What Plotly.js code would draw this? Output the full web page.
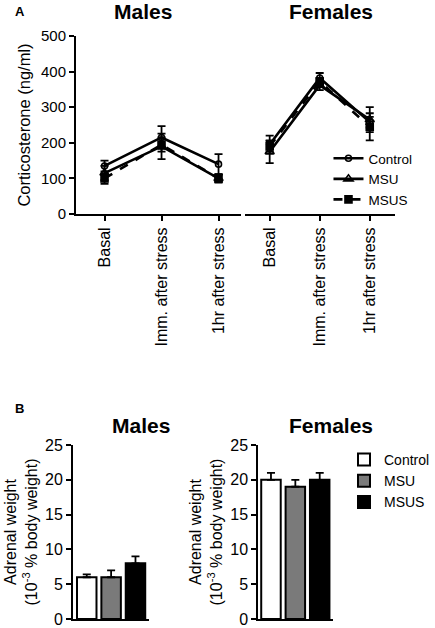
<!DOCTYPE html>
<html>
<head>
<meta charset="utf-8">
<script src="https://cdn.plot.ly/plotly-3.0.1.min.js"></script>
<style>html,body{margin:0;padding:0;background:#fff;}#chart{width:435px;height:628px;}</style>
</head>
<body>
<div id="chart"></div>
<script>
// ---- Data ----
const timepoints = ["Basal", "Imm. after stress", "1hr after stress"];
const groups = ["Control", "MSU", "MSUS"];

// Panel A: corticosterone (ng/ml)
const maleControl = [135, 215, 140];
const maleControlErr = [15, 32, 28];
const maleMSU = [115, 190, 100];
const maleMSUErr = [20, 36, 12];
const maleMSUS = [100, 195, 100];
const maleMSUSErr = [15, 20, 10];

const femaleControl = [195, 382, 258];
const femaleControlErr = [25, 14, 15];
const femaleMSU = [175, 362, 265];
const femaleMSUErr = [32, 14, 35];
const femaleMSUS = [190, 372, 245];
const femaleMSUSErr = [15, 10, 38];

// Panel B: adrenal weight (10^-3 % body weight)
const maleAdrenal = [6, 6, 8];
const maleAdrenalErr = [0.4, 1, 1];
const femaleAdrenal = [20, 19, 20];
const femaleAdrenalErr = [1, 1, 1];

const barColors = ["#ffffff", "#7a7a7a", "#000000"];

// ---- Figure ----
const W = 435, H = 628;
const px = v => v / W;
const py = v => 1 - v / H;
const FONT = 'Arial, "Liberation Sans", Helvetica, sans-serif';

const lineStyles = {
  Control: {dash: "solid", symbol: "circle-open", size: 6},
  MSU: {dash: "solid", symbol: "triangle-up-open", size: 8},
  MSUS: {dash: "dash", symbol: "square", size: 7}
};

function lineTrace(name, y, err, xa, ya, showleg) {
  const s = lineStyles[name];
  return {
    type: "scatter", mode: "lines+markers", name: name,
    x: timepoints, y: y, xaxis: xa, yaxis: ya,
    line: {color: "#000", width: 2.6, dash: s.dash},
    marker: {symbol: s.symbol, size: s.size, color: "#000", line: {color: "#000", width: 1.6}},
    error_y: {type: "data", array: err, visible: true, color: "#000", thickness: 1.8, width: 4},
    showlegend: showleg, legend: "legend", legendgroup: name, cliponaxis: false
  };
}

const traces = [
  lineTrace("Control", maleControl, maleControlErr, "x", "y", false),
  lineTrace("MSU", maleMSU, maleMSUErr, "x", "y", false),
  lineTrace("MSUS", maleMSUS, maleMSUSErr, "x", "y", false),
  lineTrace("Control", femaleControl, femaleControlErr, "x2", "y2", true),
  lineTrace("MSU", femaleMSU, femaleMSUErr, "x2", "y2", true),
  lineTrace("MSUS", femaleMSUS, femaleMSUSErr, "x2", "y2", true)
];

groups.forEach((g, i) => {
  traces.push({
    type: "bar", name: g, x: [g], y: [maleAdrenal[i]], xaxis: "x3", yaxis: "y3",
    marker: {color: barColors[i], line: {color: "#000", width: 2}},
    error_y: {type: "data", array: [maleAdrenalErr[i]], arrayminus: [0], symmetric: false, color: "#000", thickness: 1.8, width: 4},
    showlegend: false, legend: "legend2"
  });
});
groups.forEach((g, i) => {
  traces.push({
    type: "bar", name: g, x: [g], y: [femaleAdrenal[i]], xaxis: "x4", yaxis: "y4",
    marker: {color: barColors[i], line: {color: "#000", width: 2}},
    error_y: {type: "data", array: [femaleAdrenalErr[i]], arrayminus: [0], symmetric: false, color: "#000", thickness: 1.8, width: 4},
    showlegend: true, legend: "legend2"
  });
});

const axisCommon = {
  showline: true, linecolor: "#000", linewidth: 2, showgrid: false, zeroline: false,
  ticks: "outside", ticklen: 5, tickwidth: 2, tickcolor: "#000",
  tickfont: {family: FONT, size: 15, color: "#000"}, fixedrange: true
};

const domA = [py(214), py(36)];
const domB = [py(619), py(445)];

const layout = {
  width: W, height: H,
  margin: {l: 0, r: 0, t: 0, b: 0},
  paper_bgcolor: "#fff", plot_bgcolor: "rgba(0,0,0,0)",
  font: {family: FONT, color: "#000"},
  barmode: "group", bargap: 0.2,
  xaxis: Object.assign({}, axisCommon, {
    domain: [px(78), px(247)], anchor: "y", type: "category",
    range: [-0.5, 2.39], tickangle: -90, tickfont: {family: FONT, size: 16, color: "#000"}
  }),
  yaxis: Object.assign({}, axisCommon, {
    domain: domA, anchor: "x", range: [0, 500], dtick: 100,
    title: {text: "Corticosterone (ng/ml)", font: {family: FONT, size: 16.5, color: "#000"}, standoff: 6}
  }),
  xaxis2: Object.assign({}, axisCommon, {
    domain: [px(251), px(405)], anchor: "y2", type: "category",
    range: [-0.5, 2.5], tickangle: -90, tickfont: {family: FONT, size: 16, color: "#000"}
  }),
  yaxis2: {domain: domA, anchor: "x2", range: [0, 500], visible: false, fixedrange: true},
  xaxis3: Object.assign({}, axisCommon, {
    domain: [px(75), px(153)], anchor: "y3", type: "category",
    range: [-0.56, 2.56], ticks: "", showticklabels: false
  }),
  yaxis3: Object.assign({}, axisCommon, {
    domain: domB, anchor: "x3", range: [0, 25], dtick: 5,
    tickfont: {family: FONT, size: 16, color: "#000"},
    title: {text: "Adrenal weight<br>(10<sup>-3</sup> % body weight)", font: {family: FONT, size: 16, color: "#000"}, standoff: 4}
  }),
  xaxis4: Object.assign({}, axisCommon, {
    domain: [px(265), px(342)], anchor: "y4", type: "category",
    range: [-0.52, 2.56], ticks: "", showticklabels: false
  }),
  yaxis4: Object.assign({}, axisCommon, {
    domain: domB, anchor: "x4", range: [0, 25], dtick: 5,
    tickfont: {family: FONT, size: 16, color: "#000"},
    title: {text: "Adrenal weight<br>(10<sup>-3</sup> % body weight)", font: {family: FONT, size: 16, color: "#000"}, standoff: 4}
  }),
  legend: {
    x: px(337), y: py(143), xanchor: "left", yanchor: "top",
    bgcolor: "rgba(0,0,0,0)", font: {family: FONT, size: 13.5, color: "#000"},
    tracegroupgap: 0, itemwidth: 30
  },
  legend2: {
    x: px(353), y: py(444), xanchor: "left", yanchor: "top",
    bgcolor: "rgba(0,0,0,0)", font: {family: FONT, size: 14, color: "#000"},
    tracegroupgap: 0, itemwidth: 30
  },
  annotations: [
    {text: "<b>A</b>", x: px(13), y: py(11), xref: "paper", yref: "paper", xanchor: "left", yanchor: "middle", showarrow: false, font: {family: FONT, size: 13}},
    {text: "<b>B</b>", x: px(13), y: py(408), xref: "paper", yref: "paper", xanchor: "left", yanchor: "middle", showarrow: false, font: {family: FONT, size: 13}},
    {text: "<b>Males</b>", x: px(147), y: py(12), xref: "paper", yref: "paper", xanchor: "center", yanchor: "middle", showarrow: false, font: {family: FONT, size: 21}},
    {text: "<b>Females</b>", x: px(340), y: py(11), xref: "paper", yref: "paper", xanchor: "center", yanchor: "middle", showarrow: false, font: {family: FONT, size: 21}},
    {text: "<b>Males</b>", x: px(145), y: py(425), xref: "paper", yref: "paper", xanchor: "center", yanchor: "middle", showarrow: false, font: {family: FONT, size: 21}},
    {text: "<b>Females</b>", x: px(340), y: py(425), xref: "paper", yref: "paper", xanchor: "center", yanchor: "middle", showarrow: false, font: {family: FONT, size: 21}}
  ]
};

Plotly.newPlot("chart", traces, layout, {staticPlot: true, displayModeBar: false});
</script>
</body>
</html>
